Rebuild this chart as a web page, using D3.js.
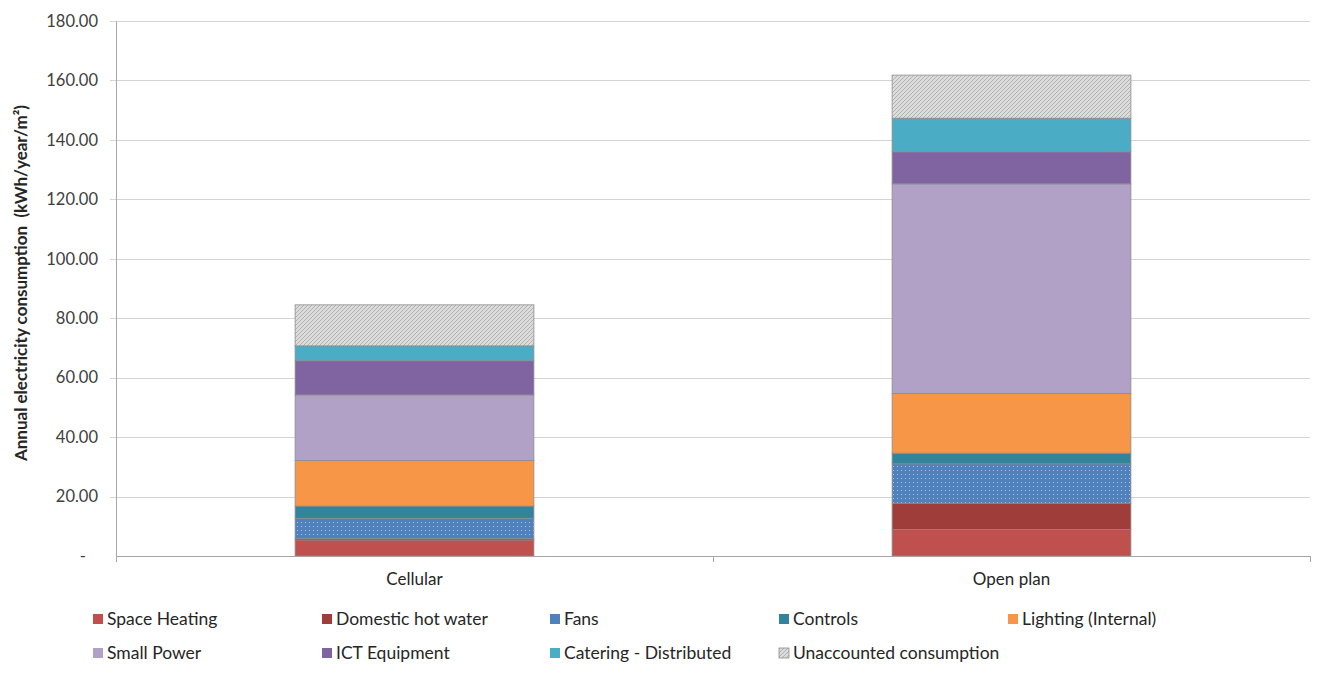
<!DOCTYPE html>
<html>
<head>
<meta charset="utf-8">
<script src="https://cdn.jsdelivr.net/npm/d3@7"></script>
<style>
  html, body { margin: 0; padding: 0; background: #fff; }
  svg { display: block; }
  text { font-family: Lato, "Open Sans", sans-serif; }
</style>
</head>
<body>
<svg id="chart" width="1320" height="675"></svg>
<script>
// Building types (x categories)
const categories = ["Cellular", "Open plan"];

// End-use series, stacked bottom to top (kWh/year/m²)
const seriesNames = [
  "Space Heating", "Domestic hot water", "Fans", "Controls", "Lighting (Internal)",
  "Small Power", "ICT Equipment", "Catering - Distributed", "Unaccounted consumption"
];
const cellularValues = [5.4, 0.5, 6.8, 4.1, 15.3, 22.1, 11.5, 5.0, 13.8];
const openPlanValues = [8.9, 8.9, 13.2, 3.6, 20.1, 70.5, 10.8, 11.3, 14.5];

// Y-axis tick values and labels
const yTicks = [0, 20, 40, 60, 80, 100, 120, 140, 160, 180];
const yTickLabels = ["-", "20.00", "40.00", "60.00", "80.00", "100.00", "120.00", "140.00", "160.00", "180.00"];

const seriesFills = [
  "#C0504D", "#9E3D3A", "url(#dots)", "#31849B", "#F79646",
  "#B2A1C7", "#8064A2", "#4BACC6", "url(#hatch)"
];
const swatchFills = [
  "#C0504D", "#9E3D3A", "#4F81BD", "#31849B", "#F79646",
  "#B2A1C7", "#8064A2", "#4BACC6", "url(#hatch)"
];

const svg = d3.select("#chart");
const margin = { left: 116, right: 10, top: 21, bottom: 119 };
const W = 1320, H = 675;
const plotW = W - margin.left - margin.right;
const plotH = H - margin.top - margin.bottom;

// Patterns: dotted blue for fans, diagonal hatch for unaccounted
const defs = svg.append("defs");
const dots = defs.append("pattern").attr("id", "dots").attr("patternUnits", "userSpaceOnUse")
  .attr("width", 4).attr("height", 4);
dots.append("rect").attr("width", 4).attr("height", 4).attr("fill", "#4F81BD");
dots.append("rect").attr("x", 1).attr("y", 1).attr("width", 1).attr("height", 1).attr("fill", "#A9C3E6");

const hp = defs.append("pattern").attr("id", "hatch").attr("patternUnits", "userSpaceOnUse")
  .attr("width", 4).attr("height", 4);
hp.append("rect").attr("width", 4).attr("height", 4).attr("fill", "#DCDCDC");
hp.append("path").attr("d", "M0,4 L4,0 M-2,2 L2,-2 M2,6 L6,2")
  .attr("stroke", "#A6A6A6").attr("stroke-width", 0.8);

const g = svg.append("g").attr("transform", `translate(${margin.left},${margin.top})`);

const band = d3.scaleBand().domain(categories).range([0, plotW]);
const y = d3.scaleLinear().domain([0, 180]).range([plotH, 0]);

// Gridlines (with short outward ticks)
g.append("g").selectAll("line").data(yTicks.slice(1)).join("line")
  .attr("x1", -6).attr("x2", plotW)
  .attr("y1", d => Math.round(y(d)) + 0.5).attr("y2", d => Math.round(y(d)) + 0.5)
  .attr("stroke", "#D4D4D4").attr("stroke-width", 1.2);

// Y axis
const yAxis = d3.axisLeft(y).tickValues(yTicks).tickSize(0).tickPadding(18)
  .tickFormat((d, i) => yTickLabels[i]);
const ya = g.append("g").call(yAxis);
ya.select(".domain").attr("stroke", "#A6A6A6");
ya.selectAll("text").attr("font-size", 16.5).attr("fill", "#404040")
  .attr("dx", d => d === 0 ? -12 : 0);

// Stack data
const rows = categories.map((c, i) => {
  const vals = i === 0 ? cellularValues : openPlanValues;
  const o = { category: c };
  seriesNames.forEach((s, j) => o[s] = vals[j]);
  return o;
});
const stacked = d3.stack().keys(seriesNames)(rows);

const barX = d => band(d.data.category) + band.bandwidth() * 0.3;
const barW = band.bandwidth() * 0.4;

g.append("g").selectAll("g").data(stacked).join("g")
  .attr("fill", (d, i) => seriesFills[i])
  .selectAll("rect").data(d => d).join("rect")
  .attr("x", barX).attr("width", barW)
  .attr("y", d => y(d[1])).attr("height", d => y(d[0]) - y(d[1]))
  .attr("stroke", "#8C8C8C").attr("stroke-width", 0.8);

// X axis
const xAxisG = g.append("g").attr("transform", `translate(0,${plotH})`);
xAxisG.append("line").attr("x1", 0).attr("x2", plotW).attr("y1", 0.5).attr("y2", 0.5)
  .attr("stroke", "#A6A6A6");
xAxisG.selectAll(".tk").data([0, 1, 2]).join("line")
  .attr("x1", d => Math.round(d * band.step()) + 0.5).attr("x2", d => Math.round(d * band.step()) + 0.5)
  .attr("y1", 0).attr("y2", 6).attr("stroke", "#A6A6A6");
xAxisG.selectAll("text").data(categories).join("text")
  .attr("x", d => band(d) + band.bandwidth() / 2).attr("y", 29)
  .attr("text-anchor", "middle").attr("font-size", 17).attr("fill", "#262626")
  .text(d => d);

// Y axis title, sized to span the plot's central band
const yTitle = svg.append("text")
  .attr("transform", `translate(27,283) rotate(-90)`)
  .attr("text-anchor", "middle").attr("font-weight", "bold")
  .attr("fill", "#262626").attr("font-size", 15)
  .style("white-space", "pre")
  .text("Annual electricity consumption  (kWh/year/m²)");
const len = yTitle.node().getComputedTextLength();
yTitle.attr("font-size", Math.min(17, 15 * 372 / len));

// Legend: 5 columns × 2 rows
const legend = svg.append("g");
const colX = [93, 322, 550, 779, 1008];
const rowY = [619, 653];
const items = legend.selectAll("g").data(seriesNames).join("g")
  .attr("transform", (d, i) => `translate(${colX[i % 5]},${rowY[Math.floor(i / 5)]})`);
items.append("rect").attr("x", 0).attr("y", -5).attr("width", 10).attr("height", 10)
  .attr("fill", (d, i) => swatchFills[i])
  .attr("stroke", (d, i) => i === 8 ? "#8C8C8C" : "none").attr("stroke-width", 0.8);
items.append("text").attr("x", 14).attr("y", 0).attr("dy", "0.35em")
  .attr("font-size", 17.5).attr("fill", "#262626").text(d => d);
</script>
</body>
</html>
